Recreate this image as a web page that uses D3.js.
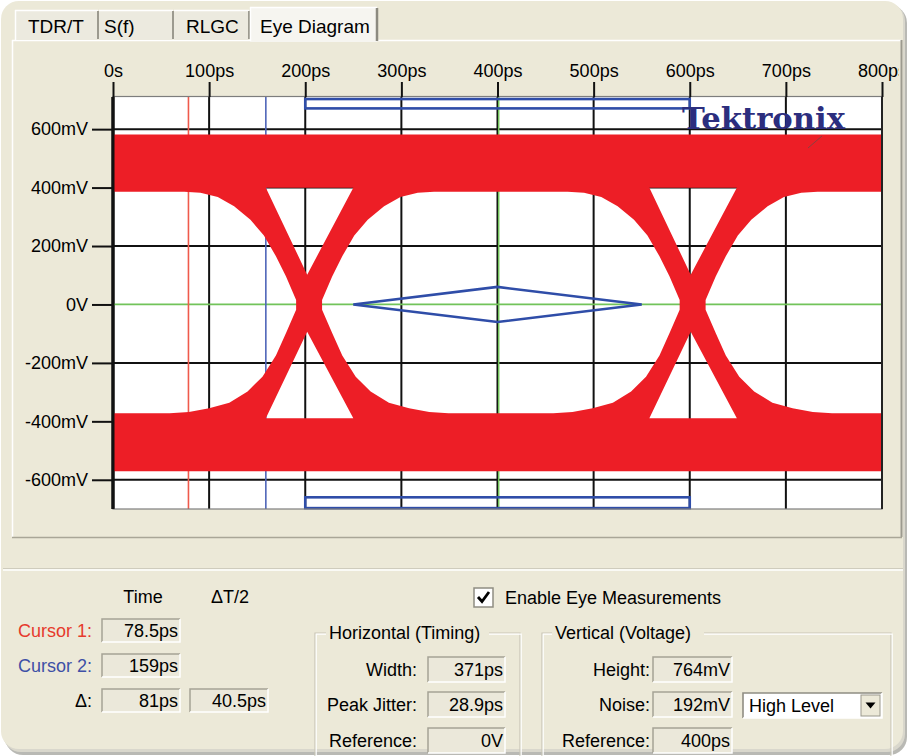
<!DOCTYPE html>
<html>
<head>
<meta charset="utf-8">
<script src="https://cdn.jsdelivr.net/npm/d3@7"></script>
<style>
  html, body { margin: 0; padding: 0; background: #ffffff; }
  svg { display: block; font-family: "Liberation Sans", Arial, sans-serif; }
</style>
</head>
<body>
<svg id="chart" width="909" height="756"></svg>
<script>
// ---- axes ----
const timeTicksPs = [0, 100, 200, 300, 400, 500, 600, 700, 800];
const timeTickLabels = ["0s", "100ps", "200ps", "300ps", "400ps", "500ps", "600ps", "700ps", "800ps"];
const voltTicksMv = [600, 400, 200, 0, -200, -400, -600];
const voltTickLabels = ["600mV", "400mV", "200mV", "0V", "-200mV", "-400mV", "-600mV"];

// ---- eye traces ----
const crossingPs = [204, 603];                 // centre of each transition crossing
const highRailMv = [386, 582];                 // logic-1 band: inner edge, outer edge
const lowRailMv = [-372, -571];                // logic-0 band: inner edge, outer edge
// outer edge of a transition bundle, as offset from its crossing (ps) and level (mV), top to bottom
const edgeOffsetPs = [130, 113, 95, 78, 61, 47, 34.5, 24, 13.5, 13.5, 24, 34.5, 48.5, 64, 83, 104, 125, 145];
const edgeLevelMv  = [386, 382, 368, 336, 290, 236, 165, 96, 15, -18, -98, -175, -247, -298, -336, -355, -368, -372];
// openings between the rising and falling bundles, above and below each crossing
const gapOffsetPs = [-45, 46, -2];
const gapUpperMv = [399, 399, 102];
const gapLowerMv = [-389, -389, -93];

// ---- eye mask ----
const maskDiamondPs = [250, 400, 550, 400];
const maskDiamondMv = [0, 60, 0, -60];
const maskBarPs = [200, 600];
const maskTopBarMv = [671, 703];
const maskBottomBarMv = [-697, -660];

// ---- cursors & readouts ----
const cursorLabels = ["Cursor 1:", "Cursor 2:"];
const cursorPs = [78.5, 159];
const cursorReadouts = ["78.5ps", "159ps"];
const deltaReadouts = ["81ps", "40.5ps"];
const timingLabels = ["Width:", "Peak Jitter:", "Reference:"];
const timingValues = ["371ps", "28.9ps", "0V"];
const voltageLabels = ["Height:", "Noise:", "Reference:"];
const voltageValues = ["764mV", "192mV", "400ps"];
const tabLabels = ["TDR/T", "S(f)", "RLGC", "Eye Diagram"];

const BG = "#ECE9D8";
const svg = d3.select("#chart");

// ---------- window frame ----------
svg.append("rect").attr("x", 5).attr("y", 5).attr("width", 902).attr("height", 750)
  .attr("rx", 18).attr("fill", "#b9b9b4");
svg.append("rect").attr("x", 3).attr("y", 3).attr("width", 902).attr("height", 749)
  .attr("rx", 18).attr("fill", "#d9d7cc");
svg.append("rect").attr("x", 1).attr("y", 1).attr("width", 902).attr("height", 748)
  .attr("rx", 18).attr("fill", BG);

// ---------- tab page ----------
svg.append("line").attr("x1", 12).attr("x2", 901).attr("y1", 40.5).attr("y2", 40.5).attr("stroke", "#ffffff").attr("stroke-width", 1.5);
svg.append("line").attr("x1", 12.5).attr("x2", 12.5).attr("y1", 40).attr("y2", 537).attr("stroke", "#ffffff").attr("stroke-width", 1.5);
svg.append("line").attr("x1", 901.5).attr("x2", 901.5).attr("y1", 40).attr("y2", 537).attr("stroke", "#9c9a8f").attr("stroke-width", 2);
svg.append("line").attr("x1", 12).attr("x2", 902).attr("y1", 537.5).attr("y2", 537.5).attr("stroke", "#a9a697").attr("stroke-width", 1.5);

// tabs
const tabX = [15, 99, 174, 250, 378];
const tabTextX = [28, 104, 186, 260];
const tabs = svg.append("g");
tabLabels.forEach((t, i) => {
  const sel = i === tabLabels.length - 1;
  const x0 = tabX[i], x1 = tabX[i + 1];
  const top = sel ? 7 : 10;
  tabs.append("rect").attr("x", x0).attr("y", top).attr("width", x1 - x0 - 1).attr("height", sel ? 35 : 30)
    .attr("fill", sel ? "#F6F5F0" : "#ECEADF");
  tabs.append("line").attr("x1", x0).attr("x2", x1 - 1).attr("y1", top + 0.5).attr("y2", top + 0.5).attr("stroke", "#ffffff").attr("stroke-width", 1.5);
  if (sel || i === 0) tabs.append("line").attr("x1", x0 + 0.5).attr("x2", x0 + 0.5).attr("y1", top).attr("y2", 41).attr("stroke", "#ffffff").attr("stroke-width", 1.5);
  tabs.append("line").attr("x1", x1 - 1).attr("x2", x1 - 1).attr("y1", top + 1).attr("y2", sel ? 41 : 39)
    .attr("stroke", sel ? "#8c8a80" : "#9c9a8f").attr("stroke-width", sel ? 2.5 : 2);
  tabs.append("text").attr("x", tabTextX[i]).attr("y", 33)
    .attr("font-size", 19).attr("fill", "#000").text(t);
});

// ---------- plot ----------
const x = d3.scaleLinear().domain([0, 800]).range([113, 882]);
const y = d3.scaleLinear().domain([-700, 710]).range([509, 97]);
const [px0, px1] = x.range();
const [py0, py1] = [y.range()[1], y.range()[0]];

// the last time label is cut off by the tab page edge
svg.append("defs").append("clipPath").attr("id", "pageClip").attr("clipPathUnits", "userSpaceOnUse")
  .append("rect").attr("x", -20).attr("y", -200).attr("width", 919).attr("height", 400);

svg.append("rect").attr("x", px0).attr("y", py0).attr("width", px1 - px0).attr("height", py1 - py0)
  .attr("fill", "#ffffff");

// grid
const grid = svg.append("g");
grid.selectAll("line.v").data(timeTicksPs).join("line").attr("class", "v")
  .attr("x1", d => x(d)).attr("x2", d => x(d)).attr("y1", py0).attr("y2", py1)
  .attr("stroke", "#111").attr("stroke-width", d => (d === 0 ? 3 : 2));
grid.selectAll("line.h").data(voltTicksMv.filter(v => v !== 0)).join("line").attr("class", "h")
  .attr("x1", px0).attr("x2", px1).attr("y1", d => y(d)).attr("y2", d => y(d))
  .attr("stroke", "#111").attr("stroke-width", 2);
grid.append("line").attr("x1", px0).attr("x2", px1).attr("y1", y(0)).attr("y2", y(0))
  .attr("stroke", "#72c35a").attr("stroke-width", 1.8);
grid.append("line").attr("x1", x(400) + 1.2).attr("x2", x(400) + 1.2).attr("y1", py0).attr("y2", py1)
  .attr("stroke", "#72c35a").attr("stroke-width", 1.5);

// cursors
const cursorColors = ["#ef5a4c", "#4f66b9"];
svg.selectAll("line.cursor").data(cursorPs).join("line").attr("class", "cursor")
  .attr("x1", d => x(d)).attr("x2", d => x(d)).attr("y1", py0).attr("y2", py1)
  .attr("stroke", (d, i) => cursorColors[i]).attr("stroke-width", 1.6);

// eye: filled band with the eye openings cut out
const line = d3.line().x(p => x(p[0])).y(p => y(p[1]));
const edge = edgeOffsetPs.map((o, i) => [o, edgeLevelMv[i]]);
const [c1, c2] = crossingPs;
const leftEdgeOf = c => edge.map(([o, v]) => [c - o, v]);
const rightEdgeOf = c => edge.map(([o, v]) => [c + o, v]);

const shapes = [];
shapes.push([[0, highRailMv[1]], [800, highRailMv[1]], [800, lowRailMv[1]], [0, lowRailMv[1]]]);
// left partial eye
shapes.push([[0, highRailMv[0]], ...leftEdgeOf(c1), [0, lowRailMv[0]]]);
// centre eye
shapes.push([...rightEdgeOf(c1), ...leftEdgeOf(c2).reverse()]);
// right partial eye
shapes.push([[800, highRailMv[0]], ...rightEdgeOf(c2), [800, lowRailMv[0]]].reverse());
// gaps inside each crossing
crossingPs.forEach(c => {
  shapes.push(gapOffsetPs.map((o, i) => [c + o, gapUpperMv[i]]));
  shapes.push(gapOffsetPs.map((o, i) => [c + o, gapLowerMv[i]]));
});
svg.append("path").attr("d", shapes.map(s => line(s) + "Z").join(""))
  .attr("fill", "#ED1E26").attr("fill-rule", "evenodd");

// eye mask
const mask = svg.append("g").attr("fill", "none").attr("stroke", "#2F4DA8").attr("stroke-width", 2.6);
mask.append("path").attr("d", line(maskDiamondPs.map((t, i) => [t, maskDiamondMv[i]])) + "Z");
[maskTopBarMv, maskBottomBarMv].forEach(b => {
  mask.append("rect").attr("x", x(maskBarPs[0])).attr("y", y(b[1]))
    .attr("width", x(maskBarPs[1]) - x(maskBarPs[0])).attr("height", y(b[0]) - y(b[1]));
});

// logo
svg.append("text").attr("x", 682).attr("y", 128.5).attr("font-family", "'DejaVu Serif', 'Liberation Serif', serif")
  .attr("font-weight", "bold").attr("font-size", 29).attr("fill", "#2C2E7E")
  .attr("textLength", 163).attr("lengthAdjust", "spacingAndGlyphs").text("Tektronix");
svg.append("line").attr("x1", 808).attr("y1", 148).attr("x2", 822).attr("y2", 136)
  .attr("stroke", "#8a4040").attr("stroke-width", 1);

// plot frame
svg.append("rect").attr("x", px0).attr("y", py0 - 0.5).attr("width", px1 - px0).attr("height", py1 - py0 + 0.5)
  .attr("fill", "none").attr("stroke", "#7d7d7d").attr("stroke-width", 1.2);
svg.append("line").attr("x1", px0).attr("x2", px0).attr("y1", py0).attr("y2", py1).attr("stroke", "#111").attr("stroke-width", 3);
svg.append("line").attr("x1", px1).attr("x2", px1).attr("y1", py0).attr("y2", py1).attr("stroke", "#222").attr("stroke-width", 2);

// axes
const topAxis = svg.append("g").attr("transform", `translate(0,${py0})`).attr("clip-path", "url(#pageClip)")
  .call(d3.axisTop(x).tickValues(timeTicksPs).tickFormat((d, i) => timeTickLabels[i]).tickSize(15).tickPadding(5));
const leftAxis = svg.append("g").attr("transform", `translate(${px0},0)`)
  .call(d3.axisLeft(y).tickValues(voltTicksMv).tickFormat((d, i) => voltTickLabels[i]).tickSize(21).tickPadding(4));
[topAxis, leftAxis].forEach(a => {
  a.select(".domain").remove();
  a.selectAll(".tick line").attr("stroke", "#111").attr("stroke-width", 2);
  a.selectAll(".tick text").attr("font-family", "'Liberation Sans', Arial, sans-serif").attr("font-size", 18).attr("fill", "#000");
});

// ---------- readout panel ----------
svg.append("line").attr("x1", 3).attr("x2", 903).attr("y1", 568.5).attr("y2", 568.5).attr("stroke", "#cfccbd").attr("stroke-width", 1);
svg.append("line").attr("x1", 3).attr("x2", 903).attr("y1", 570).attr("y2", 570).attr("stroke", "#ffffff").attr("stroke-width", 1.6);

const panel = svg.append("g").attr("font-size", 18).attr("fill", "#000");

function field(x0, y0, w, h, value) {
  panel.append("rect").attr("x", x0).attr("y", y0).attr("width", w).attr("height", h).attr("fill", "#EBE8DA");
  panel.append("path").attr("d", `M${x0},${y0 + h}V${y0}H${x0 + w}`).attr("fill", "none").attr("stroke", "#a5a395").attr("stroke-width", 1.5);
  panel.append("path").attr("d", `M${x0},${y0 + h}H${x0 + w}V${y0}`).attr("fill", "none").attr("stroke", "#ffffff").attr("stroke-width", 1.5);
  panel.append("text").attr("x", x0 + w - 2).attr("y", y0 + h / 2).attr("dy", "0.36em")
    .attr("text-anchor", "end").text(value);
}
function label(xr, yc, t, color) {
  panel.append("text").attr("x", xr).attr("y", yc).attr("dy", "0.36em").attr("text-anchor", "end")
    .attr("fill", color || "#000").text(t);
}

panel.append("text").attr("x", 143).attr("y", 597).attr("dy", "0.36em").attr("text-anchor", "middle").text("Time");
panel.append("text").attr("x", 230).attr("y", 597).attr("dy", "0.36em").attr("text-anchor", "middle").text("ΔT/2");

const cursorRowY = [619, 654, 689];
const cursorTextColors = ["#E63A2C", "#3E50A6"];
cursorLabels.forEach((t, i) => {
  label(92, cursorRowY[i] + 11.5, t, cursorTextColors[i]);
  field(102, cursorRowY[i], 78, 23, cursorReadouts[i]);
});
label(92, cursorRowY[2] + 11.5, "Δ:");
field(102, cursorRowY[2], 78, 23, deltaReadouts[0]);
field(190, cursorRowY[2], 78, 23, deltaReadouts[1]);

// enable checkbox
panel.append("rect").attr("x", 474).attr("y", 588).attr("width", 19).attr("height", 19)
  .attr("fill", "#ffffff").attr("stroke", "#8f8d82").attr("stroke-width", 1.5);
panel.append("path").attr("d", "M478,597 L482,601.5 L489,592").attr("fill", "none")
  .attr("stroke", "#000").attr("stroke-width", 2.8);
panel.append("text").attr("x", 505).attr("y", 598).attr("dy", "0.36em").text("Enable Eye Measurements");

// group boxes
function groupBox(x0, x1, title, titleX0, titleX1) {
  const y0 = 633, y1 = 770;
  [["#c9c6b6", 0], ["#ffffff", 1.2]].forEach(([col, off]) => {
    panel.append("path")
      .attr("d", `M${titleX0},${y0 + off}H${x0 + off}V${y1}M${x1 + off},${y1}V${y0 + off}H${titleX1}`)
      .attr("fill", "none").attr("stroke", col).attr("stroke-width", 1.2);
  });
  panel.append("text").attr("x", titleX0 + 3).attr("y", y0).attr("dy", "0.36em").text(title);
}
groupBox(315, 520, "Horizontal (Timing)", 326, 489);
groupBox(542, 891, "Vertical (Voltage)", 552, 704);

const measRowY = [657, 692, 728];
timingLabels.forEach((t, i) => {
  label(417, measRowY[i] + 12.5, t);
  field(428, measRowY[i], 77, 25, timingValues[i]);
});
voltageLabels.forEach((t, i) => {
  label(650, measRowY[i] + 12.5, t);
  field(653, measRowY[i], 79, 25, voltageValues[i]);
});

// level selector
panel.append("rect").attr("x", 743).attr("y", 693).attr("width", 139).attr("height", 25).attr("fill", "#ffffff");
panel.append("path").attr("d", "M743,718V693H882").attr("fill", "none").attr("stroke", "#8f8d82").attr("stroke-width", 1.6);
panel.append("path").attr("d", "M743,718H882V693").attr("fill", "none").attr("stroke", "#ffffff").attr("stroke-width", 1.6);
panel.append("text").attr("x", 749).attr("y", 705.5).attr("dy", "0.36em").text("High Level");
panel.append("rect").attr("x", 861).attr("y", 695).attr("width", 19).attr("height", 21).attr("fill", BG)
  .attr("stroke", "#9a988c").attr("stroke-width", 1);
panel.append("path").attr("d", "M865.5,702.5H875.5L870.5,708.5Z").attr("fill", "#000");
</script>
</body>
</html>
